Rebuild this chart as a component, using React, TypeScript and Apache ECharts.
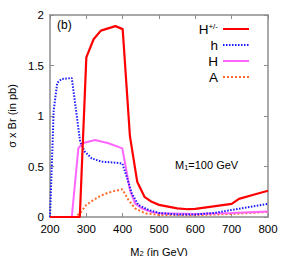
import React, { useEffect, useRef } from "react";
import * as echarts from "echarts";

const xTicks = [200, 300, 400, 500, 600, 700, 800];
const yTicks = [0, 0.5, 1, 1.5, 2];

const seriesNames = ["H+/-", "h", "H", "A"];

const hCharged: [number, number][] = [
  [200, 0], [282, 0], [300, 1.58], [320, 1.76], [340, 1.845], [380, 1.89], [400, 1.86],
  [420, 0.8], [440, 0.35], [460, 0.2], [480, 0.15], [500, 0.12], [550, 0.085], [580, 0.077],
  [600, 0.08], [640, 0.1], [700, 0.13], [720, 0.18], [760, 0.22], [800, 0.26],
];
const hLight: [number, number][] = [
  [200, 0], [205, 0.5], [210, 1.05], [220, 1.33], [232, 1.366], [260, 1.376], [273, 1.02],
  [283, 0.745], [296, 0.646], [315, 0.58], [342, 0.548], [379, 0.538], [399, 0.53],
  [411, 0.4], [425, 0.235], [443, 0.12], [471, 0.07], [500, 0.04], [550, 0.025],
  [600, 0.025], [650, 0.04], [700, 0.07], [750, 0.1], [800, 0.13],
];
const hHeavy: [number, number][] = [
  [200, 0], [260, 0], [278, 0.68], [289, 0.73], [324, 0.762], [361, 0.73], [399, 0.68],
  [420, 0.267], [434, 0.135], [452, 0.086], [480, 0.05], [503, 0.036], [600, 0.03],
  [700, 0.04], [800, 0.055],
];
const aOdd: [number, number][] = [
  [200, 0], [269, 0], [283, 0.04], [300, 0.12], [320, 0.17], [342, 0.215], [360, 0.24],
  [380, 0.26], [399, 0.274], [416, 0.168], [434, 0.086], [462, 0.036], [500, 0.02],
  [600, 0.018], [700, 0.03], [800, 0.05],
];

const colors = ["#ff0000", "#1a1aff", "#ff66ff", "#ff6a2a"];
const font = "Liberation Sans, Arial, sans-serif";

export default function App() {
  const ref = useRef<HTMLDivElement>(null);
  useEffect(() => {
    document.body.style.margin = "0";
    if (!ref.current) return;
    const chart = echarts.init(ref.current, null, { renderer: "svg" });
    const axisCol = "#8c8c8c";
    const baseX = {
      type: "value" as const,
      min: 200,
      max: 800,
      interval: 100,
      splitLine: { show: false },
      axisLine: { show: true, onZero: false, lineStyle: { color: axisCol, width: 1.5 } },
      axisTick: { show: true, inside: true, length: 4, lineStyle: { color: axisCol } },
    };
    const baseY = {
      type: "value" as const,
      min: 0,
      max: 2,
      interval: 0.5,
      splitLine: { show: false },
      axisLine: { show: true, onZero: false, lineStyle: { color: axisCol, width: 1.5 } },
      axisTick: { show: true, inside: true, length: 4, lineStyle: { color: axisCol } },
    };
    const datasets = [hCharged, hLight, hHeavy, aOdd];
    const types = ["solid", [1.5, 1.5], "solid", [2, 2]];
    chart.setOption({
      animation: false,
      textStyle: { fontFamily: font },
      grid: { left: 50, right: 16, top: 15, bottom: 39, containLabel: false, outerBoundsMode: "none" },
      legend: {
        orient: "vertical",
        right: 29,
        top: 17,
        align: "right",
        itemWidth: 26,
        itemHeight: 11,
        itemGap: 2,
        data: seriesNames,
        itemStyle: { opacity: 0 },
        formatter: (n: string) => (n === "H+/-" ? "{b|H}{s|+/-}" : "{b|" + n + "}"),
        textStyle: {
          fontFamily: font,
          color: "#000",
          rich: {
            b: { fontSize: 13.5, fontFamily: font, color: "#000" },
            s: { fontSize: 8, fontFamily: font, color: "#000", verticalAlign: "top", padding: [0, 0, 6, 0] },
          },
        },
      },
      xAxis: [
        {
          ...baseX,
          position: "bottom",
          axisLabel: { color: "#000", fontSize: 11.5, fontFamily: font, margin: 6 },
          name: "{a|M}{s|2}{a| (in GeV)}",
          nameLocation: "middle",
          nameGap: 28,
          nameTextStyle: {
            rich: {
              a: { fontSize: 11, fontFamily: font, color: "#000", lineHeight: 13 },
              s: { fontSize: 7.5, fontFamily: font, color: "#000", lineHeight: 13, padding: [3, 0, 0, 0] },
            },
          },
        },
        { ...baseX, position: "top", axisLabel: { show: false } },
      ],
      yAxis: [
        {
          ...baseY,
          position: "left",
          axisLabel: { color: "#000", fontSize: 11.5, fontFamily: font, margin: 6 },
          name: "σ x Br (in pb)",
          nameLocation: "middle",
          nameGap: 32,
          nameTextStyle: { fontSize: 11, fontFamily: font, color: "#000" },
        },
        { ...baseY, position: "right", axisLabel: { show: false } },
      ],
      graphic: [
        { type: "text", left: 57, top: 19, style: { text: "(b)", fontSize: 12, fontFamily: font, fill: "#000" } },
        {
          type: "text",
          left: 175,
          top: 159,
          style: {
            text: "{a|M}{s|1}{a|=100 GeV}",
            rich: {
              a: { fontSize: 11, fontFamily: font, fill: "#000" },
              s: { fontSize: 7.5, fontFamily: font, fill: "#000", padding: [5, 0, 0, 0] },
            },
          },
        },
      ],
      series: datasets.map((d, i) => ({
        name: seriesNames[i],
        type: "line",
        data: d,
        symbol: "none",
        xAxisIndex: 0,
        yAxisIndex: 0,
        z: 10 - i,
        lineStyle: { color: colors[i], width: i === 0 ? 2.2 : 2, type: types[i] },
        itemStyle: { color: colors[i] },
      })),
    });
    return () => chart.dispose();
  }, []);
  return <div ref={ref} style={{ width: 284, height: 256 }} />;
}
